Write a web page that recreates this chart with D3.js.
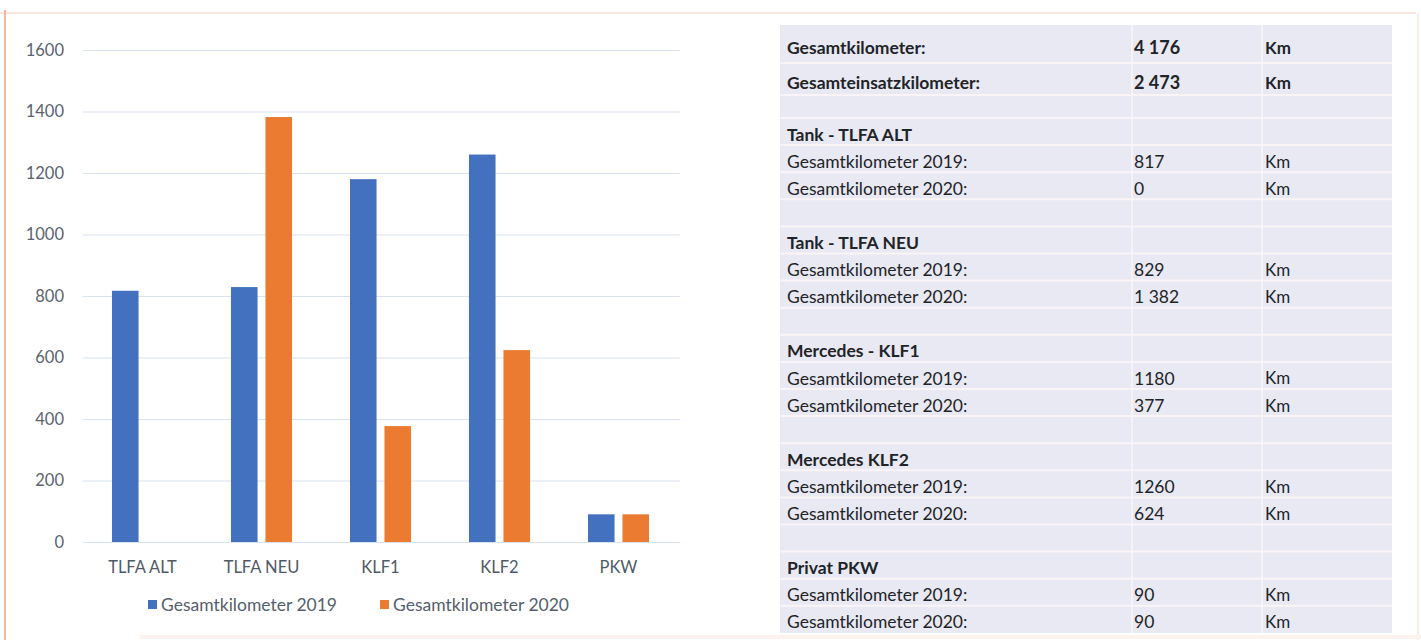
<!DOCTYPE html>
<meta charset="utf-8">
<style>
body { margin: 0; background: #fff; }
text { font-family: Lato, "Open Sans", sans-serif; }
</style>
<svg width="1421" height="640"></svg>
<script src="https://cdn.jsdelivr.net/npm/d3@7"></script>
<script>

// chart data
var categories = ["TLFA ALT", "TLFA NEU", "KLF1", "KLF2", "PKW"];
var series = ["Gesamtkilometer 2019", "Gesamtkilometer 2020"];
var km2019 = [817, 829, 1180, 1260, 90];
var km2020 = [0, 1382, 377, 624, 90];
var yTicks = [0, 200, 400, 600, 800, 1000, 1200, 1400, 1600];

// table data
var totalLabels = ["Gesamtkilometer:", "Gesamteinsatzkilometer:"];
var totalValues = ["4 176", "2 473"];
var sectionTitles = ["Tank - TLFA ALT", "Tank - TLFA NEU", "Mercedes - KLF1", "Mercedes KLF2", "Privat PKW"];
var tab2019 = ["817", "829", "1180", "1260", "90"];
var tab2020 = ["0", "1 382", "377", "624", "90"];

var blue = "#4470C0", orange = "#EA7B30";

var svg = d3.select("svg");

// page frame
svg.append("line").attr("x1", 0).attr("x2", 1416).attr("y1", 13).attr("y2", 13)
   .attr("stroke", "#FCE8DF").attr("stroke-width", 2);
svg.append("line").attr("x1", 5).attr("x2", 5).attr("y1", 10).attr("y2", 640)
   .attr("stroke", "#F4B4A0").attr("stroke-width", 2);
svg.append("line").attr("x1", 1418).attr("x2", 1418).attr("y1", 13).attr("y2", 640)
   .attr("stroke", "#FCEDE6").attr("stroke-width", 2);
svg.append("line").attr("x1", 140).attr("x2", 1421).attr("y1", 637).attr("y2", 637)
   .attr("stroke", "#FDF2EE").attr("stroke-width", 4);

//------------- bar chart -------------
var plotLeft = 83, plotRight = 678, plotTop = 50, plotBottom = 542;

var y = d3.scaleLinear().domain([0, 1600]).range([plotBottom, plotTop]);
var x0 = d3.scaleBand().domain(categories).range([plotLeft, plotRight]);
var x1 = d3.scaleBand().domain(series).range([0, x0.bandwidth()])
           .paddingInner(0.23).paddingOuter(0.84);
var color = d3.scaleOrdinal().domain(series).range([blue, orange]);

var yAxis = svg.append("g")
   .attr("transform", "translate(" + plotLeft + ",0)")
   .call(d3.axisLeft(y).tickValues(yTicks).tickFormat(d3.format("d"))
           .tickSize(-(plotRight + 2 - plotLeft)).tickPadding(19));
yAxis.select(".domain").remove();
yAxis.selectAll(".tick line").attr("stroke", "#D8E3EF").attr("stroke-width", 1.2);
yAxis.selectAll(".tick text").attr("fill", "#5A6470").attr("font-size", "16.5px");

var rows = categories.map(function(c, i) { return {cat: c, vals: [km2019[i], km2020[i]]}; });

svg.append("g").selectAll("g")
   .data(rows)
   .enter().append("g")
   .attr("transform", function(d) { return "translate(" + x0(d.cat) + ",0)"; })
   .selectAll("rect")
   .data(function(d) { return d.vals.map(function(v, j) { return {key: series[j], value: v}; }); })
   .enter().append("rect")
   .attr("x", function(d) { return x1(d.key); })
   .attr("width", x1.bandwidth())
   .attr("y", function(d) { return y(d.value); })
   .attr("height", function(d) { return y(0) - y(d.value); })
   .attr("fill", function(d) { return color(d.key); });

var xAxis = svg.append("g")
   .attr("transform", "translate(0," + plotBottom + ")")
   .call(d3.axisBottom(x0).tickSize(0).tickPadding(19));
xAxis.select(".domain").remove();
xAxis.selectAll(".tick text").attr("fill", "#4F5A66").attr("font-size", "16.5px");

// legend
var legend = svg.append("g").selectAll("g")
   .data(series)
   .enter().append("g")
   .attr("transform", function(d, i) { return "translate(" + (148 + i * 232) + ",605)"; });
legend.append("rect").attr("x", 0).attr("y", -5).attr("width", 9).attr("height", 9)
   .attr("fill", function(d) { return color(d); });
legend.append("text").attr("x", 13).attr("y", 0).attr("dy", "0.35em")
   .attr("fill", "#55606C").attr("font-size", "17.5px")
   .text(function(d) { return d; });

//------------- table -------------
var tLeft = 780, tRight = 1392;
var colLabel = 787, colValue = 1134, colUnit = 1265;
var tableRows = [];
totalLabels.forEach(function(l, i) {
  tableRows.push({label: l, value: totalValues[i], unit: "Km", bold: true, vbold: true});
});
tableRows.push({label: "", value: "", unit: ""});
sectionTitles.forEach(function(t, i) {
  tableRows.push({label: t, value: "", unit: "", bold: true});
  tableRows.push({label: "Gesamtkilometer 2019:", value: tab2019[i], unit: "Km"});
  tableRows.push({label: "Gesamtkilometer 2020:", value: tab2020[i], unit: "Km"});
  if (i < sectionTitles.length - 1) tableRows.push({label: "", value: "", unit: ""});
});

// row geometry: two taller header rows, a short spacer, then even rows
var rowTop = [], rowH = [];
var yy = 25;
tableRows.forEach(function(r, i) {
  var h = i === 0 ? 38 : (i === 1 ? 32 : (i === 2 ? 23 : 27.1));
  rowTop.push(yy); rowH.push(h); yy += h;
});

var table = svg.append("g");
table.append("rect").attr("x", tLeft).attr("y", 25).attr("width", tRight - tLeft).attr("height", yy - 25)
   .attr("fill", "#E8E9F3");

table.selectAll("line.row")
   .data(rowTop.slice(1))
   .enter().append("line")
   .attr("x1", tLeft).attr("x2", tRight)
   .attr("y1", function(d) { return d; }).attr("y2", function(d) { return d; })
   .attr("stroke", "#FBF4F6").attr("stroke-width", 2);

[1132, 1262].forEach(function(cx) {
  table.append("line").attr("x1", cx).attr("x2", cx).attr("y1", 25).attr("y2", yy)
     .attr("stroke", "#FBF6F8").attr("stroke-width", 1.5);
});

var tr = table.selectAll("g.tr")
   .data(tableRows)
   .enter().append("g")
   .attr("transform", function(d, i) { return "translate(0," + (rowTop[i] + rowH[i] / 2 + (i < 2 ? 4 : 3)) + ")"; });

tr.append("text").attr("x", colLabel).attr("dy", "0.35em")
   .attr("font-size", "17.5px").attr("fill", "#1E2428")
   .attr("font-weight", function(d) { return d.bold ? "bold" : "normal"; })
   .text(function(d) { return d.label; });
tr.append("text").attr("x", colValue).attr("dy", "0.35em")
   .attr("font-size", function(d) { return d.vbold ? "18px" : "17.5px"; }).attr("fill", "#1E2428")
   .attr("font-weight", function(d) { return d.vbold ? "bold" : "normal"; })
   .text(function(d) { return d.value; });
tr.append("text").attr("x", colUnit).attr("dy", "0.35em")
   .attr("font-size", "17px").attr("fill", "#1E2428")
   .attr("font-weight", function(d) { return d.vbold ? "bold" : "normal"; })
   .text(function(d) { return d.unit; });

</script>
